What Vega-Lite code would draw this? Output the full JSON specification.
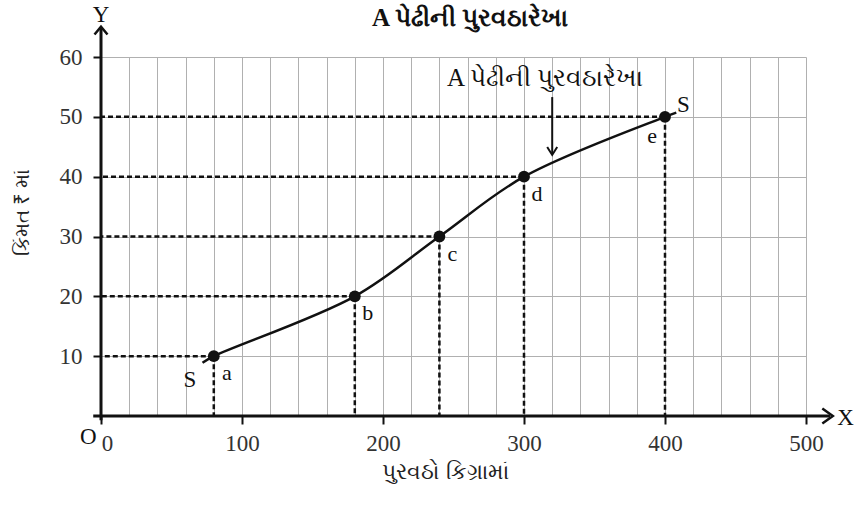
{
  "$schema": "https://vega.github.io/schema/vega-lite/v6.json",
  "width": 705,
  "height": 359,
  "autosize": "none",
  "padding": {"left": 101, "top": 57, "right": 54, "bottom": 92},
  "background": "white",
  "config": {"view": {"stroke": null}},
  "resolve": {"axis": {"x": "independent"}},
  "datasets": {
    "points": [
      {"label": "a", "x": 80, "y": 10},
      {"label": "b", "x": 180, "y": 20},
      {"label": "c", "x": 240, "y": 30},
      {"label": "d", "x": 300, "y": 40},
      {"label": "e", "x": 400, "y": 50}
    ],
    "curve": [
      {"x": 72, "y": 8.9},
      {"x": 80, "y": 10},
      {"x": 180, "y": 20},
      {"x": 240, "y": 30},
      {"x": 300, "y": 40},
      {"x": 400, "y": 50},
      {"x": 408, "y": 50.7}
    ],
    "notes": [
      {"text": "S", "x": 63, "y": 6},
      {"text": "S", "x": 413, "y": 52},
      {"text": "O", "x": -9, "y": -3.5},
      {"text": "X", "x": 528, "y": -0.3},
      {"text": "Y", "x": 0, "y": 67.1}
    ]
  },
  "layer": [
    {
      "data": {"name": "points"},
      "mark": {"type": "rule", "strokeDash": [5, 3], "strokeWidth": 2.5, "color": "#111"},
      "encoding": {
        "x": {"field": "x", "type": "quantitative",
          "scale": {"domain": [0, 500], "nice": false, "zero": false},
          "axis": {
            "orient": "top",
            "values": [0, 20, 40, 60, 80, 100, 120, 140, 160, 180, 200, 220, 240, 260, 280, 300, 320, 340, 360, 380, 400, 420, 440, 460, 480, 500],
            "title": null, "domain": false, "labels": false, "ticks": false,
            "grid": true, "gridColor": "#b0b0b0", "gridWidth": 1
          }
        },
        "x2": {"datum": 0},
        "y": {"field": "y", "type": "quantitative",
          "scale": {"domain": [0, 60], "nice": false, "zero": false},
          "axis": {
            "values": [0, 10, 20, 30, 40, 50, 60],
            "title": "કિંમત ₹ માં", "titleFont": "Noto Sans", "titleFontSize": 20, "titleFontWeight": "normal", "titleColor": "#222",
            "titleX": -79, "titleY": 155, "titleAngle": 270, "titleAlign": "center", "titleBaseline": "middle",
            "domain": false,
            "grid": true, "gridColor": "#b0b0b0", "gridWidth": 1,
            "ticks": true, "tickSize": 8, "tickWidth": 2, "tickColor": "#111",
            "tickOpacity": {"condition": {"test": "datum.value === 0", "value": 0}, "value": 1},
            "labelExpr": "datum.value === 0 ? '' : datum.label",
            "labelFont": "Liberation Serif", "labelFontSize": 23, "labelColor": "#333", "labelPadding": 11,
            "labelFlush": false
          }
        }
      }
    },
    {
      "data": {"name": "points"},
      "mark": {"type": "rule", "strokeDash": [5, 3], "strokeWidth": 2.5, "color": "#111"},
      "encoding": {
        "x": {"field": "x", "type": "quantitative",
          "axis": {
            "orient": "bottom",
            "values": [0, 100, 200, 300, 400, 500],
            "title": "પુરવઠો કિગ્રામાં", "titleFont": "Noto Sans", "titleFontSize": 22, "titleFontWeight": "normal", "titleColor": "#222",
            "titleX": 344, "titleY": 55, "titleBaseline": "middle",
            "domain": false, "grid": false,
            "ticks": true, "tickSize": 8, "tickWidth": 2, "tickColor": "#111",
            "labelFont": "Liberation Serif", "labelFontSize": 23, "labelColor": "#333", "labelPadding": 8,
            "labelFlush": false,
            "labelOffset": {"condition": {"test": "datum.value === 0", "value": 6}, "value": 0},
            "labelOverlap": false
          }
        },
        "y": {"field": "y", "type": "quantitative"},
        "y2": {"datum": 0}
      }
    },
    {
      "data": {"values": [{}]},
      "mark": {"type": "rule", "strokeWidth": 3, "color": "#111"},
      "encoding": {
        "x": {"datum": -5.5, "type": "quantitative", "axis": null},
        "x2": {"datum": 517},
        "y": {"datum": 0, "type": "quantitative"}
      }
    },
    {
      "data": {"values": [{}]},
      "mark": {"type": "rule", "strokeWidth": 3, "color": "#111"},
      "encoding": {
        "x": {"datum": 0, "type": "quantitative", "axis": null},
        "y": {"datum": -0.7, "type": "quantitative"},
        "y2": {"datum": 65}
      }
    },
    {
      "data": {"values": [{}]},
      "mark": {"type": "point", "shape": "M -0.7 -1 L 0.7 0 L -0.7 1", "filled": false, "stroke": "#111", "strokeWidth": 2.5, "size": 225, "opacity": 1},
      "encoding": {
        "x": {"datum": 515.3, "type": "quantitative", "axis": null},
        "y": {"datum": 0, "type": "quantitative"}
      }
    },
    {
      "data": {"values": [{}]},
      "mark": {"type": "point", "shape": "M -1 0.6 L 0 -0.6 L 1 0.6", "filled": false, "stroke": "#111", "strokeWidth": 2.5, "size": 169, "opacity": 1},
      "encoding": {
        "x": {"datum": 0, "type": "quantitative", "axis": null},
        "y": {"datum": 64.4, "type": "quantitative"}
      }
    },
    {
      "data": {"name": "curve"},
      "mark": {"type": "line", "interpolate": "catmull-rom", "color": "#111", "strokeWidth": 2.5},
      "encoding": {
        "x": {"field": "x", "type": "quantitative", "axis": null},
        "y": {"field": "y", "type": "quantitative"}
      }
    },
    {
      "data": {"name": "points"},
      "mark": {"type": "circle", "color": "#111", "size": 140, "opacity": 1},
      "encoding": {
        "x": {"field": "x", "type": "quantitative", "axis": null},
        "y": {"field": "y", "type": "quantitative"}
      }
    },
    {
      "data": {"name": "points"},
      "transform": [{"filter": "datum.label !== 'e'"}],
      "mark": {"type": "text", "font": "Liberation Serif", "fontSize": 22, "color": "#111", "dx": 13, "dy": 17},
      "encoding": {
        "x": {"field": "x", "type": "quantitative", "axis": null},
        "y": {"field": "y", "type": "quantitative"},
        "text": {"field": "label"}
      }
    },
    {
      "data": {"name": "points"},
      "transform": [{"filter": "datum.label === 'e'"}],
      "mark": {"type": "text", "font": "Liberation Serif", "fontSize": 22, "color": "#111", "dx": -13, "dy": 19},
      "encoding": {
        "x": {"field": "x", "type": "quantitative", "axis": null},
        "y": {"field": "y", "type": "quantitative"},
        "text": {"field": "label"}
      }
    },
    {
      "data": {"name": "notes"},
      "mark": {"type": "text", "font": "Liberation Serif", "fontSize": 23, "color": "#111"},
      "encoding": {
        "x": {"field": "x", "type": "quantitative", "axis": null},
        "y": {"field": "y", "type": "quantitative"},
        "text": {"field": "text"}
      }
    },
    {
      "data": {"values": [{"text": "A પેઢીની પુરવઠારેખા", "x": 315, "y": 56.5}]},
      "mark": {"type": "text", "font": "Liberation Serif", "fontSize": 25, "color": "#111"},
      "encoding": {
        "x": {"field": "x", "type": "quantitative", "axis": null},
        "y": {"field": "y", "type": "quantitative"},
        "text": {"field": "text"}
      }
    },
    {
      "data": {"values": [{"text": "A પેઢીની પુરવઠારેખા", "x": 261.7, "y": 66.6}]},
      "mark": {"type": "text", "font": "Liberation Serif", "fontSize": 25, "fontWeight": "bold", "color": "#111"},
      "encoding": {
        "x": {"field": "x", "type": "quantitative", "axis": null},
        "y": {"field": "y", "type": "quantitative"},
        "text": {"field": "text"}
      }
    },
    {
      "data": {"values": [{}]},
      "mark": {"type": "rule", "strokeWidth": 2, "color": "#111"},
      "encoding": {
        "x": {"datum": 320, "type": "quantitative", "axis": null},
        "y": {"datum": 53.3, "type": "quantitative"},
        "y2": {"datum": 43.8}
      }
    },
    {
      "data": {"values": [{}]},
      "mark": {"type": "point", "shape": "M -1 -0.8 L 0 0.8 L 1 -0.8", "filled": false, "stroke": "#111", "strokeWidth": 2, "size": 100, "opacity": 1},
      "encoding": {
        "x": {"datum": 320, "type": "quantitative", "axis": null},
        "y": {"datum": 44.3, "type": "quantitative"}
      }
    }
  ]
}
